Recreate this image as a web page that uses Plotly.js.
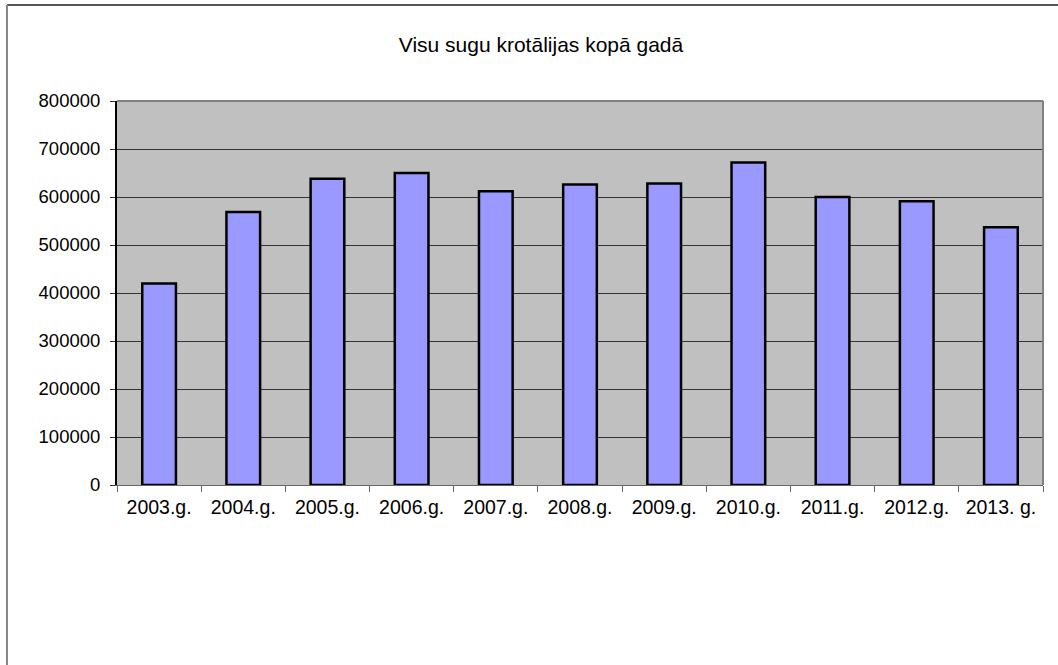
<!DOCTYPE html>
<html>
<head>
<meta charset="utf-8">
<script src="https://cdn.plot.ly/plotly-3.0.1.min.js"></script>
<style>
  html, body { margin: 0; padding: 0; background: #fff; }
  #chart { width: 1058px; height: 665px; }
</style>
</head>
<body>
<div id="chart"></div>
<script>
// years and totals
const years = ['2003.g.', '2004.g.', '2005.g.', '2006.g.', '2007.g.', '2008.g.',
  '2009.g.', '2010.g.', '2011.g.', '2012.g.', '2013. g.'];
const totals = [420000, 569000, 638000, 650000, 612000, 626000,
  628000, 672000, 600000, 591000, 537000];
const yTicks = [0, 100000, 200000, 300000, 400000, 500000, 600000, 700000, 800000];

const font = 'Liberation Sans, Arial, sans-serif';

const trace = {
  type: 'bar',
  x: years,
  y: totals,
  marker: {
    color: '#9999ff',
    line: { color: '#000000', width: 2.5 }
  },
  hoverinfo: 'x+y'
};

const layout = {
  width: 1058,
  height: 665,
  margin: { l: 117, r: 15, t: 101, b: 180 },
  paper_bgcolor: '#ffffff',
  plot_bgcolor: '#c0c0c0',
  bargap: 0.6,
  showlegend: false,
  font: { family: font, size: 19, color: '#000' },
  title: {
    text: 'Visu sugu krotālijas kopā gadā',
    font: { family: font, size: 21, color: '#000' },
    x: 541 / 1058, xanchor: 'center', xref: 'container',
    y: 1 - 45 / 665, yanchor: 'middle', yref: 'container'
  },
  xaxis: {
    type: 'category',
    showgrid: false,
    showline: true,
    linecolor: '#666',
    linewidth: 1,
    ticks: 'outside',
    tickson: 'boundaries',
    ticklen: 6,
    tickcolor: '#666',
    ticklabelstandoff: 5,
    tickfont: { family: font, size: 19.5, color: '#000' }
  },
  yaxis: {
    range: [0, 800000],
    tickvals: yTicks,
    ticktext: yTicks.map(String),
    showgrid: true,
    gridcolor: '#333',
    gridwidth: 1,
    showline: true,
    linecolor: '#000',
    linewidth: 2,
    ticks: 'outside',
    ticklen: 5,
    tickcolor: '#333',
    ticklabelstandoff: 6,
    zeroline: false,
    tickfont: { family: font, size: 18.5, color: '#000' }
  },
  shapes: [
    // outer chart frame (top and left only)
    { type: 'line', xref: 'paper', yref: 'paper', x0: -110 / 926, x1: 1.02, y0: 1 + 96 / 384, y1: 1 + 96 / 384,
      line: { color: '#555', width: 2 } },
    { type: 'line', xref: 'paper', yref: 'paper', x0: -110 / 926, x1: -110 / 926, y0: 1 + 96 / 384, y1: -180 / 384,
      line: { color: '#888', width: 2 } },
    // plot area top and right border
    { type: 'line', xref: 'paper', yref: 'paper', x0: 0, x1: 1, y0: 1, y1: 1,
      line: { color: '#808080', width: 2 } },
    { type: 'line', xref: 'paper', yref: 'paper', x0: 1, x1: 1, y0: 0, y1: 1,
      line: { color: '#808080', width: 2 } }
  ]
};

Plotly.newPlot('chart', [trace], layout, { displayModeBar: false, staticPlot: true });
</script>
</body>
</html>
